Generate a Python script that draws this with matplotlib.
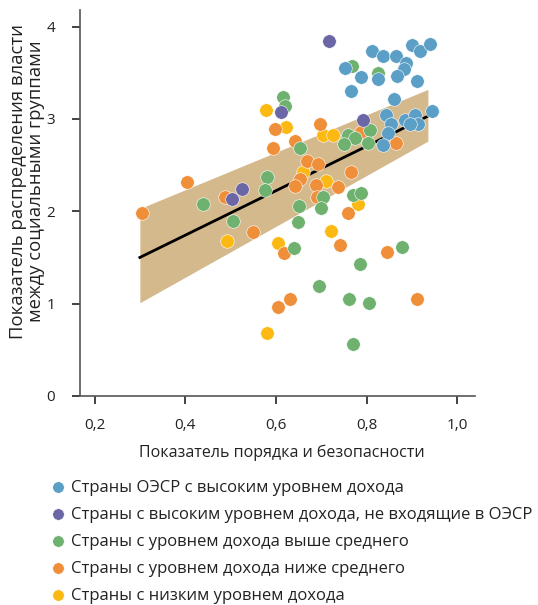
import matplotlib
matplotlib.use("Agg")
import matplotlib.pyplot as plt
from matplotlib.ticker import FuncFormatter

plt.rcParams['font.family'] = ['Open Sans', 'DejaVu Sans']

# Страны ОЭСР с высоким уровнем дохода
oecd_x = [0.811, 0.835, 0.864, 0.900, 0.918, 0.940, 0.887, 0.883, 0.868, 0.911,
          0.788, 0.825, 0.753, 0.766, 0.861, 0.843, 0.885, 0.907, 0.944, 0.854,
          0.913, 0.896, 0.847, 0.836]
oecd_y = [3.74, 3.68, 3.68, 3.80, 3.74, 3.81, 3.61, 3.54, 3.47, 3.41,
          3.45, 3.43, 3.55, 3.30, 3.22, 3.04, 2.99, 3.04, 3.09, 2.94,
          2.94, 2.94, 2.85, 2.72]

# высокий доход, не ОЭСР
high_x = [0.717, 0.791, 0.611, 0.525, 0.503]
high_y = [3.84, 2.99, 3.07, 2.24, 2.13]

# выше среднего
upper_x = [0.616, 0.620, 0.767, 0.826, 0.653, 0.580, 0.576, 0.439, 0.506, 0.759,
           0.775, 0.749, 0.808, 0.802, 0.704, 0.650, 0.699, 0.648, 0.771, 0.788,
           0.640, 0.786, 0.879, 0.696, 0.761, 0.806, 0.771]
upper_y = [3.24, 3.14, 3.57, 3.50, 2.69, 2.37, 2.23, 2.08, 1.90, 2.83,
           2.79, 2.73, 2.88, 2.74, 2.16, 2.06, 2.04, 1.88, 2.18, 2.20,
           1.60, 1.43, 1.61, 1.19, 1.05, 1.01, 0.56]

# ниже среднего
lower_x = [0.404, 0.304, 0.487, 0.550, 0.597, 0.593, 0.641, 0.697, 0.669, 0.693,
           0.766, 0.653, 0.642, 0.689, 0.737, 0.690, 0.759, 0.788, 0.864, 0.618,
           0.742, 0.845, 0.631, 0.605, 0.912]
lower_y = [2.32, 1.98, 2.16, 1.78, 2.89, 2.68, 2.76, 2.94, 2.54, 2.51,
           2.43, 2.35, 2.27, 2.28, 2.26, 2.16, 1.98, 2.86, 2.74, 1.55,
           1.63, 1.56, 1.05, 0.96, 1.05]

# низкий доход
low_x = [0.578, 0.623, 0.703, 0.726, 0.659, 0.711, 0.780, 0.722, 0.604, 0.492, 0.580]
low_y = [3.10, 2.91, 2.83, 2.83, 2.43, 2.33, 2.08, 1.79, 1.66, 1.68, 0.68]

# линия тренда и доверительная полоса
trend_x = [0.30, 0.935]
trend_y = [1.50, 3.03]
band_lo = [1.01, 2.76]
band_hi = [2.03, 3.32]

groups = [
    (oecd_x, oecd_y, '#5b9ec6', 'Страны ОЭСР с высоким уровнем дохода'),
    (high_x, high_y, '#6b66a5', 'Страны с высоким уровнем дохода, не входящие в ОЭСР'),
    (upper_x, upper_y, '#6fb16e', 'Страны с уровнем дохода выше среднего'),
    (lower_x, lower_y, '#f08f3a', 'Страны с уровнем дохода ниже среднего'),
    (low_x, low_y, '#fdb913', 'Страны с низким уровнем дохода'),
]

fig = plt.figure(figsize=(5.38, 6.05), dpi=100)
ax = fig.add_axes([0.1487, 0.3455, 0.7343, 0.638])

ax.fill_between(trend_x, band_lo, band_hi, color='#d4b98c', lw=0, zorder=1)
ax.plot(trend_x, trend_y, color='black', lw=2, zorder=2)

handles = []
# draw low income first so OECD ends on top
for x, y, c, lab in groups[::-1]:
    h = ax.scatter(x, y, s=95, color=c, edgecolor='white', linewidth=0.4, zorder=3, label=lab)
    handles.append(h)
handles = handles[::-1]

ax.set_xlim(0.168, 1.039)
ax.set_ylim(0, 4.18)
ax.set_xticks([0.2, 0.4, 0.6, 0.8, 1.0])
ax.set_yticks([0, 1, 2, 3, 4])
ax.xaxis.set_major_formatter(FuncFormatter(lambda v, p: f"{v:.1f}".replace('.', ',')))
ax.yaxis.set_major_formatter(FuncFormatter(lambda v, p: f"{v:.0f}"))
for s in ['top', 'right']:
    ax.spines[s].set_visible(False)
for s in ['left', 'bottom']:
    ax.spines[s].set_color('#555555')
    ax.spines[s].set_linewidth(1.2)
ax.tick_params(direction='out', length=6, width=1.2, color='#222222', labelsize=11,
               labelcolor='#222222')
ax.tick_params(axis='x', pad=10)
ax.tick_params(axis='y', pad=12)

# axis titles placed in figure coords
fig.text(281.5 / 538, 1 - 453 / 605, 'Показатель порядка и безопасности', fontsize=11.5,
         color='#222222', ha='center', va='center')
fig.text(27 / 538, 1 - 181 / 605, 'Показатель распределения власти\nмежду социальными группами',
         fontsize=13.3, color='#222222', ha='center', va='center', rotation=90,
         linespacing=1.0, multialignment='center')

fig.legend(handles=handles, loc='upper left', bbox_to_anchor=(0.08, 0.218), frameon=False,
           fontsize=12, handletextpad=0.25, labelspacing=0.66, handlelength=1.0,
           scatterpoints=1, markerscale=0.85, borderaxespad=0, labelcolor='#222222')

fig.savefig('out.png', dpi=100)
